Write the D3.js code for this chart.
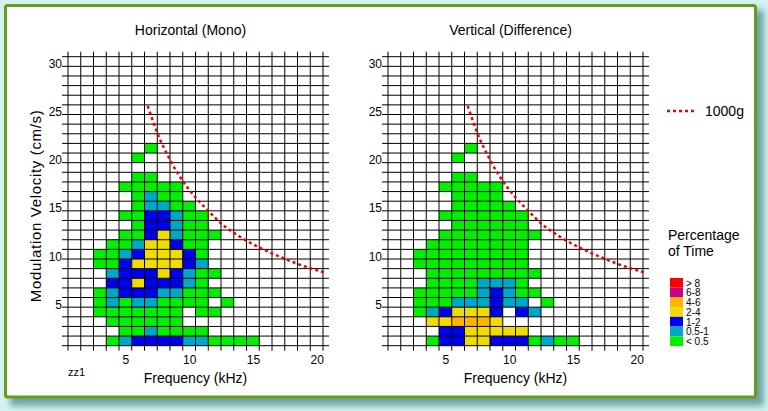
<!DOCTYPE html>
<html><head><meta charset="utf-8">
<script src="https://cdn.jsdelivr.net/npm/d3@7"></script>
<style>
html,body{margin:0;padding:0;background:#d4f2f2;}
svg{display:block;font-family:"Liberation Sans",Arial,Helvetica,sans-serif;}
</style></head>
<body><svg id="chart" width="768" height="411"></svg>
<script>
// ---- data ----
const frequencies = d3.range(1, 21);          // kHz bins
const velocities = d3.range(1, 31);           // cm/s bins
const xTicks = [5, 10, 15, 20];
const yTicks = [5, 10, 15, 20, 25, 30];
const panelTitles = ["Horizontal (Mono)", "Vertical (Difference)"];
// percentage of time per cell; row i = velocity i+1, column j = frequency j+1
const monoRows = [
  [0,0,0,.3,.7,1.5,1.5,1.5,1.5,.7,.7,.3,.3,.3,.3],
  [0,0,0,0,.3,.3,.7,.3,.3,.3,.3],
  [0,0,0,.3,.3,.3,.3,.3,.3],
  [0,0,.3,.3,.3,.3,.3,.3,.3,0,.3,.3],
  [0,0,.3,.7,.3,.7,.7,.3,.3,.3,.3,0,.3],
  [0,0,.3,.7,1.5,1.5,1.5,.7,.7,.3,.3,.3],
  [0,0,0,1.5,1.5,3,1.5,1.5,1.5,.7,.3],
  [0,0,0,.7,1.5,1.5,1.5,3,1.5,.7,.3,.3],
  [0,0,.3,.3,1.5,3,3,3,3,1.5,.7],
  [0,0,.3,.3,.7,1.5,3,3,3,1.5,.3],
  [0,0,0,.3,.3,.7,3,3,1.5,.3,.3],
  [0,0,0,0,.3,.3,1.5,3,.7,.3,.3,.3],
  [0,0,0,0,0,.3,1.5,1.5,.7,.3,.3],
  [0,0,0,0,.3,.3,1.5,1.5,.7,.3,.3],
  [0,0,0,0,0,.3,.7,.7,.3,.3],
  [0,0,0,0,0,.3,.7,.3,.3],
  [0,0,0,0,.3,.3,.3,.3,.3],
  [0,0,0,0,0,.3,.3],
  [],
  [0,0,0,0,0,.3],
  [0,0,0,0,0,0,.3]
];
const diffRows = [
  [0,0,0,.3,1.5,1.5,3,3,1.5,1.5,1.5,.3,.7,.3,.3],
  [0,0,0,0,1.5,1.5,3,3,3,3,3],
  [0,0,0,3,3,5,5,5,3],
  [0,0,.3,.7,1.5,3,3,3,1.5,0,1.5,.7],
  [0,0,.3,.3,.3,.7,.7,.7,1.5,.7,.7,0,.3],
  [0,0,.3,.3,.3,.3,.3,.7,1.5,.7,.3,.3],
  [0,0,0,.3,.3,.3,.3,.7,.7,.7,.3],
  [0,0,0,.3,.3,.3,.3,.3,.3,.3,.3,.3],
  [0,0,.3,.3,.3,.3,.3,.3,.3,.3,.3],
  [0,0,.3,.3,.3,.3,.3,.3,.3,.3,.3],
  [0,0,0,.3,.3,.3,.3,.3,.3,.3,.3],
  [0,0,0,0,.3,.3,.3,.3,.3,.3,.3,.3],
  [0,0,0,0,0,.3,.3,.3,.3,.3,.3],
  [0,0,0,0,.3,.3,.3,.3,.3,.3,.3],
  [0,0,0,0,0,.3,.3,.3,.3,.3],
  [0,0,0,0,0,.3,.3,.3,.3],
  [0,0,0,0,.3,.3,.3,.3,.3],
  [0,0,0,0,0,.3,.3],
  [],
  [0,0,0,0,0,.3],
  [0,0,0,0,0,0,.3]
];
// 1000g limit curve: [frequency kHz, velocity cm/s]
const limitFreq = [6.75, 7.5, 8.5, 9.5, 10.5, 11.5, 12.5, 14, 15.5, 17, 18.5, 20.6];
const limitVel  = [25.4, 22.6, 19.8, 17.6, 15.9, 14.5, 13.2, 11.8, 10.7, 9.8, 9.0, 8.1];
const legendLabels = ["> 8", "6-8", "4-6", "2-4", "1-2", "0.5-1", "< 0.5"];
const legendColors = ["#ff0000", "#cc0080", "#ffb400", "#f0dc00", "#0000f0", "#00a8c8", "#00f000"];
const thresholds = [0.5, 1, 2, 4, 6, 8];

// ---- drawing ----
const svg = d3.select("#chart");
const defs = svg.append("defs");
const f = defs.append("filter").attr("id", "blur").attr("x", "-5%").attr("y", "-5%").attr("width", "110%").attr("height", "110%");
f.append("feGaussianBlur").attr("stdDeviation", 3);

svg.append("rect").attr("width", 768).attr("height", 411).attr("fill", "#d4f2f2");
svg.append("rect").attr("x", 10).attr("y", 10).attr("width", 754).attr("height", 396)
  .attr("fill", "#6fa5a6").attr("filter", "url(#blur)");
svg.append("rect").attr("x", 5.5).attr("y", 5.5).attr("width", 750).attr("height", 391.5)
  .attr("rx", 2).attr("fill", "#ffffff").attr("stroke", "#6a9a1c").attr("stroke-width", 3);

const color = d3.scaleThreshold().domain(thresholds).range(legendColors.slice().reverse());
const y = d3.scaleLinear().domain([0.5, 30.5]).range([345.7, 56.7]);
const FONT = "Liberation Sans, Arial, sans-serif";

function panel(rows, left, title, showYTitle, note) {
  const x = d3.scaleLinear().domain([0.5, 20.5]).range([left, left + 255]);
  const g = svg.append("g");
  const cells = [];
  rows.forEach((row, i) => row.forEach((p, j) => { if (p > 0) cells.push({f: frequencies[j], v: velocities[i], p}); }));
  g.selectAll("rect.cell").data(cells).join("rect").attr("class", "cell")
    .attr("x", d => x(d.f - 0.5)).attr("y", d => y(d.v + 0.5))
    .attr("width", d => x(d.f + 0.5) - x(d.f - 0.5))
    .attr("height", d => y(d.v - 0.5) - y(d.v + 0.5))
    .attr("fill", d => color(d.p));
  // grid
  const xb = d3.range(0, 21).map(k => k + 0.5);
  const yb = d3.range(0, 31).map(k => k + 0.5);
  g.selectAll("line.vx").data(xb).join("line")
    .attr("x1", d => x(d)).attr("x2", d => x(d))
    .attr("y1", y(30.5) - 5).attr("y2", y(0.5) + 5)
    .attr("stroke", "#000").attr("stroke-width", 1);
  g.selectAll("line.hy").data(yb).join("line")
    .attr("y1", d => y(d)).attr("y2", d => y(d))
    .attr("x1", x(0.5) - 6).attr("x2", x(20.5) + 6)
    .attr("stroke", "#000").attr("stroke-width", 1);
  // axes labels
  const xa = g.append("g").attr("transform", `translate(0,${y(0.5) + 8})`)
    .call(d3.axisBottom(x).tickValues(xTicks).tickSize(0).tickPadding(2));
  xa.select(".domain").remove();
  xa.selectAll("text").attr("font-size", 12).attr("fill", "#000").attr("font-family", FONT);
  const ya = g.append("g").attr("transform", `translate(${x(0.5) - 6},2)`)
    .call(d3.axisLeft(y).tickValues(yTicks).tickSize(0).tickPadding(0));
  ya.select(".domain").remove();
  ya.selectAll("text").attr("font-size", 12).attr("fill", "#000").attr("font-family", FONT);
  // limit curve
  const pts = limitFreq.map((fq, i) => [fq, limitVel[i]]);
  g.append("path").datum(pts)
    .attr("d", d3.line().x(d => x(d[0])).y(d => y(d[1])).curve(d3.curveMonotoneX))
    .attr("fill", "none").attr("stroke", "#ee0000").attr("stroke-width", 2.5).attr("stroke-dasharray", "3,3");
  // titles
  g.append("text").attr("x", (x(0.5) + x(20.5)) / 2 - 5).attr("y", 35).attr("text-anchor", "middle")
    .attr("font-size", 14).text(title);
  g.append("text").attr("x", (x(0.5) + x(20.5)) / 2).attr("y", 383).attr("text-anchor", "middle")
    .attr("font-size", 14).text("Frequency (kHz)");
  if (showYTitle) {
    g.append("text").attr("transform", `translate(41,${(y(0.5) + y(30.5)) / 2 + 5}) rotate(-90)`)
      .attr("text-anchor", "middle").attr("font-size", 15)
      .attr("textLength", 192).attr("lengthAdjust", "spacing")
      .text("Modulation Velocity (cm/s)");
  }
  if (note) {
    g.append("text").attr("x", x(0.5)).attr("y", 376).attr("font-size", 11).text(note);
  }
}
panel(monoRows, 68, panelTitles[0], true, "zz1");
panel(diffRows, 388, panelTitles[1], false, null);

// legend: 1000g
svg.append("line").attr("x1", 667).attr("x2", 697).attr("y1", 111).attr("y2", 111)
  .attr("stroke", "#ee0000").attr("stroke-width", 2.5).attr("stroke-dasharray", "3,3");
svg.append("text").attr("x", 705).attr("y", 116).attr("font-size", 14).text("1000g");
// legend: percentage of time
svg.append("text").attr("x", 668).attr("y", 240).attr("font-size", 14).text("Percentage");
svg.append("text").attr("x", 668).attr("y", 256).attr("font-size", 14).text("of Time");
const ly = d3.scaleBand().domain(legendLabels).range([278, 346]);
const lg = svg.append("g");
lg.selectAll("rect").data(legendLabels).join("rect")
  .attr("x", 670).attr("y", d => ly(d)).attr("width", 13).attr("height", ly.bandwidth())
  .attr("fill", (d, i) => legendColors[i]);
lg.selectAll("text").data(legendLabels).join("text")
  .attr("x", 686).attr("y", d => ly(d) + ly.bandwidth() - 1).attr("font-size", 10).text(d => d);
</script></body></html>
